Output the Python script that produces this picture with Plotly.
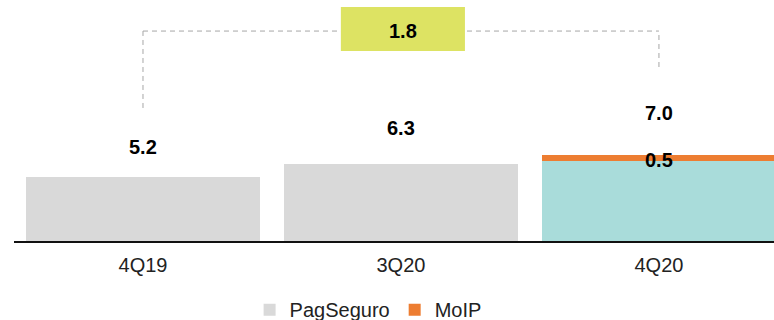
import plotly.graph_objects as go

# Quarterly values (R$ bn)
quarters = ["4Q19", "3Q20", "4Q20"]
pagseguro = [5.2, 6.3, 6.5]
moip = [0, 0, 0.5]
totals = [round(p + m, 1) for p, m in zip(pagseguro, moip)]
growth = round(totals[2] - totals[0], 1)

FONT = "Liberation Sans, Arial, sans-serif"
GRAY = "#D9D9D9"
TEAL = "#A9DCDA"
ORANGE = "#ED7D31"
LIME = "#DDE363"
DASH = "#A6A6A6"

bar_colors = [GRAY, GRAY, TEAL]

fig = go.Figure()
fig.add_trace(go.Bar(
    x=quarters, y=pagseguro, name="PagSeguro",
    marker=dict(color=bar_colors, line=dict(width=0)),
    width=0.907, hoverinfo="skip",
))
fig.add_trace(go.Bar(
    x=quarters, y=moip, name="MoIP",
    marker=dict(color=ORANGE, line=dict(width=0)),
    width=0.907, hoverinfo="skip",
))

# Total labels above each bar
label_shift = [30, 36, 42]
for q, t, s in zip(quarters, totals, label_shift):
    fig.add_annotation(x=q, y=t, text=f"<b>{t:.1f}</b>", showarrow=False,
                       yshift=s, yanchor="middle",
                       font=dict(family=FONT, size=20, color="#000"))

# MoIP segment label
fig.add_annotation(x=quarters[2], y=pagseguro[2] + moip[2] / 2,
                   text=f"<b>{moip[2]:.1f}</b>", showarrow=False,
                   yanchor="middle", yshift=-1.5,
                   font=dict(family=FONT, size=20, color="#000"))

# Growth bracket between first and last quarter
line_style = dict(color=DASH, width=1, dash="5px,4px")
bracket_y = 17.11
fig.add_shape(type="line", xref="x", yref="y", x0=0, x1=0, y0=10.84, y1=bracket_y, line=line_style)
fig.add_shape(type="line", xref="x", yref="y", x0=2, x1=2, y0=14.18, y1=bracket_y, line=line_style)
fig.add_shape(type="line", xref="x", yref="y", x0=0, x1=2, y0=bracket_y, y1=bracket_y, line=line_style)
fig.add_shape(type="rect", xref="x", yref="y", x0=0.767, x1=1.248, y0=15.48, y1=19.07,
              fillcolor=LIME, line=dict(width=0), layer="above")
fig.add_annotation(x=1.0075, y=bracket_y, text=f"<b>{growth:.1f}</b>", showarrow=False,
                   yanchor="middle", font=dict(family=FONT, size=20, color="#000"))

fig.update_layout(
    width=774, height=320,
    margin=dict(l=14, r=0, t=0, b=79, autoexpand=False),
    barmode="stack",
    paper_bgcolor="white", plot_bgcolor="white",
    font=dict(family=FONT, size=20, color="#222"),
    showlegend=True,
    legend=dict(orientation="h", traceorder="normal", x=0.31, xanchor="left",
                y=-0.285, yanchor="middle",
                font=dict(family=FONT, size=20, color="#222"),
                bgcolor="rgba(0,0,0,0)", itemclick=False, itemdoubleclick=False),
    xaxis=dict(type="category", range=[-0.5, 2.446], showline=True, linecolor="#111",
               linewidth=2, ticks="", showgrid=False, zeroline=False,
               ticklabelstandoff=5,
               tickfont=dict(family=FONT, size=20, color="#222")),
    yaxis=dict(range=[0, 19.64], visible=False, showgrid=False, zeroline=False),
)

fig.write_html("out.html")
